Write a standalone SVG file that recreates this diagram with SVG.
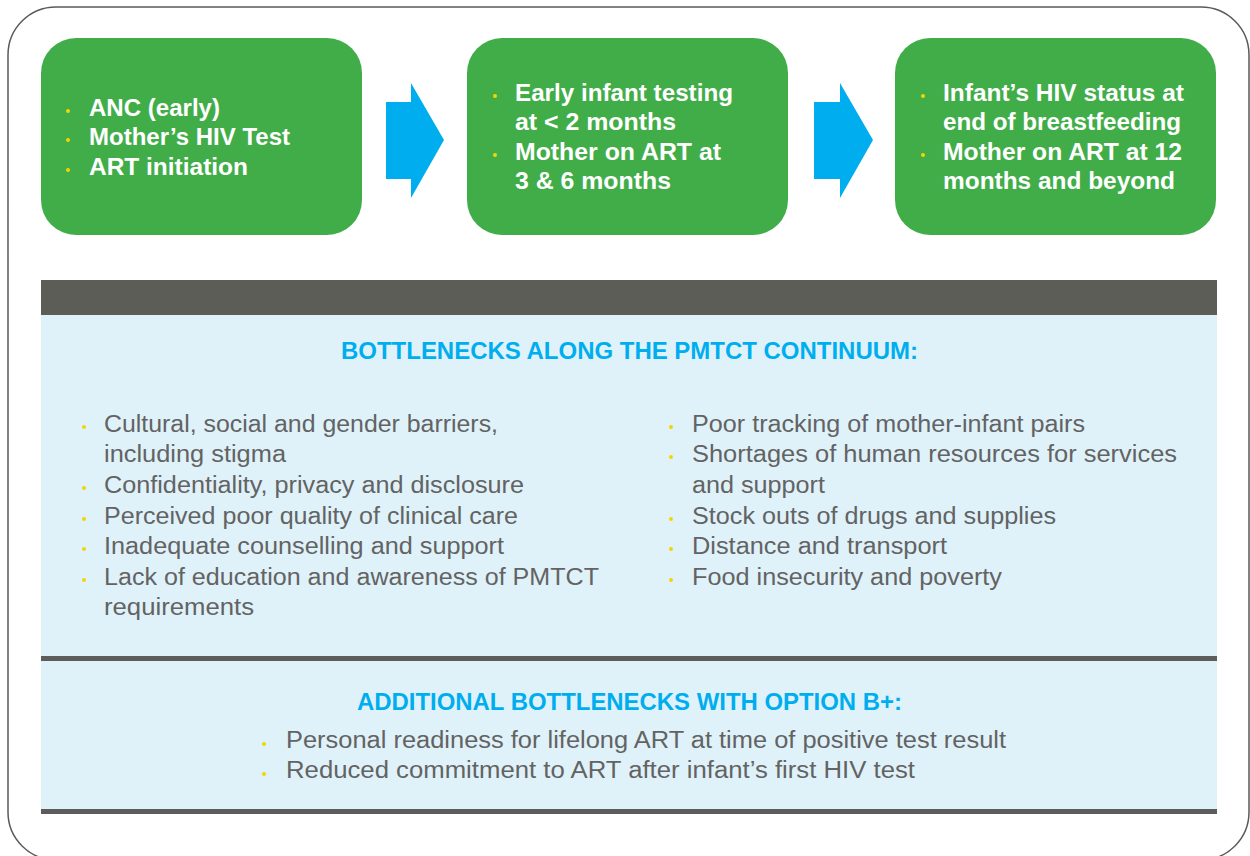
<svg xmlns="http://www.w3.org/2000/svg" width="1250" height="856" viewBox="0 0 1250 856">
<defs>
<style>
.frame{fill:#fff;stroke:#5a5a5a;stroke-width:1.5}
.box{fill:#41ad49}
.arrow{fill:#00aeef}
.bt{font-family:"Liberation Sans",Arial,sans-serif;font-weight:bold;font-size:24px;fill:#fff}
.dot{fill:#f2d600}
.hd{font-family:"Liberation Sans",Arial,sans-serif;font-weight:bold;font-size:24px;fill:#00aeef}
.tx{font-family:"Liberation Sans",Arial,sans-serif;font-size:23px;fill:#636363}
.bar{fill:#5d5d58}
.rule{fill:#5c5c5a}
.panel{fill:#dff2fa}
</style>
</defs>
<rect class="frame" x="8" y="7" width="1241" height="853" rx="48" ry="48"/>

<g id="connectors">
<polygon class="arrow" points="386,102 411,102 411,83 444,140 411,198 411,179 386,179"/>
<polygon class="arrow" points="814,102 840,102 840,83 873,140 840,198 840,179 814,179"/>
</g>

<g id="node1">
<rect class="box" x="41" y="38" width="321" height="197" rx="35"/>
<circle class="dot" cx="68" cy="111" r="2"/>
<circle class="dot" cx="68" cy="140" r="2"/>
<circle class="dot" cx="68" cy="170" r="2"/>
<text class="bt" x="89" y="116" textLength="131" lengthAdjust="spacingAndGlyphs">ANC (early)</text>
<text class="bt" x="89" y="145" textLength="201" lengthAdjust="spacingAndGlyphs">Mother’s HIV Test</text>
<text class="bt" x="89" y="175" textLength="159" lengthAdjust="spacingAndGlyphs">ART initiation</text>
</g>

<g id="node2">
<rect class="box" x="467" y="38" width="321" height="197" rx="35"/>
<circle class="dot" cx="495" cy="96" r="2"/>
<circle class="dot" cx="495" cy="155" r="2"/>
<text class="bt" x="515" y="101" textLength="218" lengthAdjust="spacingAndGlyphs">Early infant testing</text>
<text class="bt" x="515" y="130" textLength="161" lengthAdjust="spacingAndGlyphs">at &lt; 2 months</text>
<text class="bt" x="515" y="160" textLength="206" lengthAdjust="spacingAndGlyphs">Mother on ART at</text>
<text class="bt" x="515" y="189" textLength="156" lengthAdjust="spacingAndGlyphs">3 &amp; 6 months</text>
</g>

<g id="node3">
<rect class="box" x="895" y="38" width="321" height="197" rx="35"/>
<circle class="dot" cx="923" cy="96" r="2"/>
<circle class="dot" cx="923" cy="155" r="2"/>
<text class="bt" x="943" y="101" textLength="241" lengthAdjust="spacingAndGlyphs">Infant’s HIV status at</text>
<text class="bt" x="943" y="130" textLength="238" lengthAdjust="spacingAndGlyphs">end of breastfeeding</text>
<text class="bt" x="943" y="160" textLength="239" lengthAdjust="spacingAndGlyphs">Mother on ART at 12</text>
<text class="bt" x="943" y="189" textLength="232" lengthAdjust="spacingAndGlyphs">months and beyond</text>
</g>

<g id="bottlenecks">
<rect class="bar" x="41" y="280" width="1176" height="35"/>
<rect class="panel" x="41" y="315" width="1176" height="341"/>
<text class="hd" x="341" y="359" textLength="577" lengthAdjust="spacingAndGlyphs">BOTTLENECKS ALONG THE PMTCT CONTINUUM:</text>
<g>
<circle class="dot" cx="84" cy="427" r="2"/>
<circle class="dot" cx="84" cy="488" r="2"/>
<circle class="dot" cx="84" cy="519" r="2"/>
<circle class="dot" cx="84" cy="549" r="2"/>
<circle class="dot" cx="84" cy="580" r="2"/>
<text class="tx" x="104" y="432" textLength="394" lengthAdjust="spacingAndGlyphs">Cultural, social and gender barriers,</text>
<text class="tx" x="104" y="462" textLength="182" lengthAdjust="spacingAndGlyphs">including stigma</text>
<text class="tx" x="104" y="493" textLength="420" lengthAdjust="spacingAndGlyphs">Confidentiality, privacy and disclosure</text>
<text class="tx" x="104" y="524" textLength="414" lengthAdjust="spacingAndGlyphs">Perceived poor quality of clinical care</text>
<text class="tx" x="104" y="554" textLength="400" lengthAdjust="spacingAndGlyphs">Inadequate counselling and support</text>
<text class="tx" x="104" y="585" textLength="495" lengthAdjust="spacingAndGlyphs">Lack of education and awareness of PMTCT</text>
<text class="tx" x="104" y="615" textLength="150" lengthAdjust="spacingAndGlyphs">requirements</text>
</g>
<g>
<circle class="dot" cx="671" cy="427" r="2"/>
<circle class="dot" cx="671" cy="457" r="2"/>
<circle class="dot" cx="671" cy="519" r="2"/>
<circle class="dot" cx="671" cy="549" r="2"/>
<circle class="dot" cx="671" cy="580" r="2"/>
<text class="tx" x="692" y="432" textLength="393" lengthAdjust="spacingAndGlyphs">Poor tracking of mother-infant pairs</text>
<text class="tx" x="692" y="462" textLength="485" lengthAdjust="spacingAndGlyphs">Shortages of human resources for services</text>
<text class="tx" x="692" y="493" textLength="133" lengthAdjust="spacingAndGlyphs">and support</text>
<text class="tx" x="692" y="524" textLength="364" lengthAdjust="spacingAndGlyphs">Stock outs of drugs and supplies</text>
<text class="tx" x="692" y="554" textLength="255" lengthAdjust="spacingAndGlyphs">Distance and transport</text>
<text class="tx" x="692" y="585" textLength="310" lengthAdjust="spacingAndGlyphs">Food insecurity and poverty</text>
</g>
</g>

<g id="additional">
<rect class="rule" x="41" y="656" width="1176" height="5"/>
<rect class="panel" x="41" y="661" width="1176" height="148"/>
<rect class="rule" x="41" y="809" width="1176" height="5"/>
<text class="hd" x="357" y="710" textLength="545" lengthAdjust="spacingAndGlyphs">ADDITIONAL BOTTLENECKS WITH OPTION B+:</text>
<circle class="dot" cx="264" cy="744" r="2"/>
<circle class="dot" cx="264" cy="774" r="2"/>
<text class="tx" x="286" y="748" textLength="720" lengthAdjust="spacingAndGlyphs">Personal readiness for lifelong ART at time of positive test result</text>
<text class="tx" x="286" y="778" textLength="629" lengthAdjust="spacingAndGlyphs">Reduced commitment to ART after infant’s first HIV test</text>
</g>
</svg>
